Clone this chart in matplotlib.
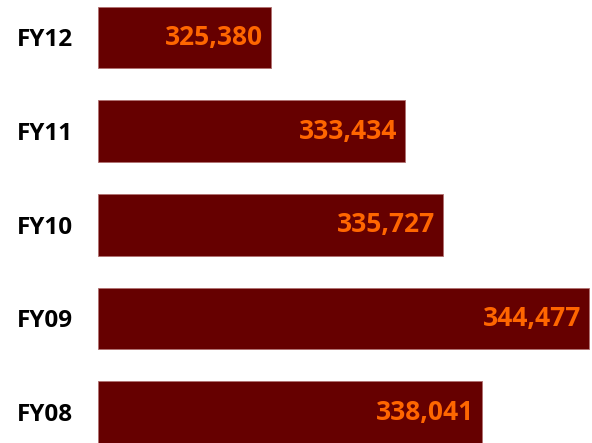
import matplotlib.pyplot as plt

years = ['FY08', 'FY09', 'FY10', 'FY11', 'FY12']
employees = [338041, 344477, 335727, 333434, 325380]

bar_color = '#660000'
label_color = '#FF6600'
font = ['Open Sans', 'DejaVu Sans']

fig = plt.figure(figsize=(5.92, 4.43), dpi=100)
ax = fig.add_axes([98 / 592, 0, 494 / 592, 1])

pos = list(range(len(years)))
ax.barh(pos, [v - 315000 for v in employees], left=315000, height=0.66,
        color=bar_color, edgecolor='#b07070', linewidth=0.6)

for p, v in zip(pos, employees):
    ax.text(v - 450, p, f'{v:,}', ha='right', va='center', color=label_color,
            fontsize=19, fontweight='bold', family=font)

ax.set_xlim(315000, 344666)
ax.set_ylim(-0.33, 4.40)
ax.set_yticks(pos)
ax.set_yticklabels(years, fontsize=17.5, fontweight='bold', family=font)
ax.tick_params(axis='y', length=0, pad=18)
ax.set_xticks([])
for s in ax.spines.values():
    s.set_visible(False)

fig.savefig('out.png', dpi=100)
